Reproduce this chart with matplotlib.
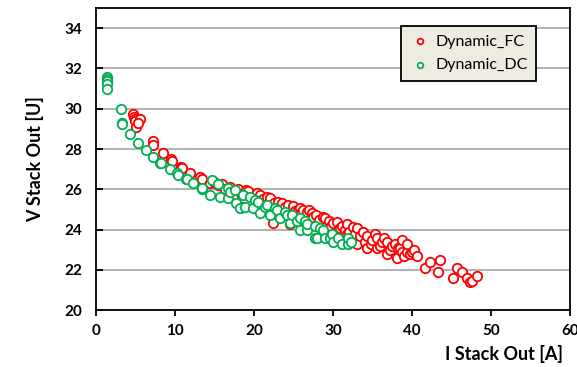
import matplotlib.pyplot as plt

# Dynamic_FC (red)
fc_i = [4.7, 4.8, 4.9, 5.0, 5.6, 5.1, 5.3, 7.2, 7.3, 8.5, 9.5, 9.6, 10.8, 10.9,
        11.9, 13.2, 13.4, 14.4, 15.0, 15.5, 16.0, 16.4, 17.0, 17.3, 18.0, 18.5,
        19.0, 19.2, 20.4, 20.8, 21.2, 21.6, 22.0, 22.4, 22.5, 23.0, 23.5, 24.0,
        24.3, 24.6, 25.0, 25.2, 25.6, 25.8, 26.0, 26.2, 26.7, 27.0, 27.3, 27.5,
        27.8, 28.2, 28.7, 29.0, 29.5, 29.8, 30.0, 30.5, 30.9, 31.2, 31.5, 31.8,
        31.8, 32.0, 32.5, 32.8, 33.0, 33.0, 33.4, 33.8, 34.0, 34.3, 34.3, 34.8,
        35.0, 35.3, 35.6, 35.6, 36.0, 36.2, 36.5, 36.8, 36.8, 37.2, 37.5, 37.8,
        38.1, 38.2, 38.5, 38.7, 38.8, 39.0, 39.4, 39.4, 39.7, 40.0, 40.3, 40.6,
        41.6, 42.3, 43.3, 43.5, 45.2, 45.7, 46.3, 47.0, 47.3, 47.6, 48.2]
fc_v = [29.75, 29.6, 29.5, 29.4, 29.5, 29.1, 29.3, 28.4, 28.2, 27.8, 27.5, 27.4,
        27.1, 27.05, 26.8, 26.6, 26.5, 26.3, 26.35, 26.2, 26.25, 26.0, 26.1, 25.55,
        26.0, 25.1, 25.95, 25.9, 25.8, 25.7, 25.5, 25.6, 25.55, 24.35, 25.3, 25.35,
        25.3, 25.1, 25.2, 24.3, 25.15, 24.9, 24.95, 25.05, 24.8, 24.95, 24.85,
        24.95, 24.8, 24.6, 24.7, 24.5, 24.6, 24.55, 24.45, 24.2, 24.35, 24.4, 24.1,
        24.2, 24.0, 24.3, 23.8, 23.9, 24.15, 23.8, 24.06, 23.3, 23.7, 23.9, 23.4,
        23.7, 23.1, 23.3, 23.5, 23.8, 23.6, 23.07, 23.2, 23.4, 23.6, 23.37, 22.8,
        23.0, 23.2, 23.3, 22.6, 23.1, 23.07, 23.5, 22.9, 22.7, 22.87, 23.3, 22.8,
        22.87, 23.0, 22.7, 22.1, 22.4, 21.9, 22.5, 21.6, 22.1, 21.9, 21.6, 21.4,
        21.45, 21.7]

# Dynamic_DC (green)
dc_i = [1.4, 1.4, 1.4, 1.4, 1.4, 3.2, 3.3, 3.3, 4.3, 5.3, 6.3, 7.3, 8.1, 8.3, 9.4,
        10.3, 10.4, 11.4, 11.5, 12.3, 13.4, 13.5, 14.4, 14.7, 15.4, 15.7, 16.7,
        16.7, 17.0, 17.6, 17.8, 18.2, 18.6, 18.9, 19.5, 19.9, 20.1, 20.5, 20.8,
        21.4, 21.6, 22.0, 22.7, 22.9, 23.3, 23.9, 24.2, 24.6, 24.8, 25.4, 25.8,
        25.8, 26.5, 26.7, 26.7, 27.7, 27.7, 28.0, 28.4, 28.7, 29.0, 29.6, 29.9,
        30.0, 30.6, 31.1, 31.9, 31.9, 32.3]
dc_v = [31.6, 31.5, 31.4, 31.25, 31.0, 30.0, 29.3, 29.25, 28.75, 28.3, 27.95,
        27.6, 27.3, 27.3, 27.0, 26.8, 26.7, 26.5, 26.5, 26.3, 26.0, 26.05, 25.7,
        26.45, 26.25, 25.6, 26.05, 25.55, 25.85, 25.95, 25.3, 25.05, 25.7, 25.1,
        25.6, 25.05, 25.45, 25.35, 24.8, 25.1, 25.2, 24.7, 25.05, 24.95, 24.55,
        24.85, 24.7, 24.35, 24.7, 24.45, 24.55, 23.96, 24.45, 23.96, 24.3, 24.2,
        23.6, 23.6, 24.06, 23.96, 23.56, 23.56, 23.8, 23.37, 23.56, 23.3, 23.3,
        23.56, 23.4]

plt.rcParams['font.family'] = ['Lato', 'DejaVu Sans']

fig = plt.figure(figsize=(5.77, 3.67), dpi=100)
ax = fig.add_axes([0.166, 0.155, 0.822, 0.823])

ax.scatter(fc_i, fc_v, s=46, facecolors='white', edgecolors='#ff0000',
           linewidths=1.3, label='Dynamic_FC', zorder=3)
ax.scatter(dc_i, dc_v, s=46, facecolors='white', edgecolors='#00b050',
           linewidths=1.3, label='Dynamic_DC', zorder=3)

ax.set_xlim(0, 60)
ax.set_ylim(20, 35)
ax.set_xticks(range(0, 61, 10))
ax.set_yticks(range(20, 35, 2))
ax.grid(axis='y', color='#a6a6a6', linewidth=1.2, zorder=0)
ax.set_axisbelow(True)

for sp in ax.spines.values():
    sp.set_linewidth(1.3)
ax.tick_params(axis='y', direction='in', length=5, width=1.3, labelsize=11, pad=10)
ax.tick_params(axis='x', direction='out', length=4, width=1.3, labelsize=11, pad=6)
for lbl in ax.get_xticklabels() + ax.get_yticklabels():
    lbl.set_fontweight('bold')

ax.set_xlabel('I Stack Out [A]', fontsize=13, fontweight='bold', ha='right')
ax.xaxis.set_label_coords(0.985, -0.115)
ax.set_ylabel('V Stack Out [U]', fontsize=13, fontweight='bold', labelpad=14)

leg = ax.legend(loc='upper left', bbox_to_anchor=(0.643, 0.942),
                fontsize=11.5, markerscale=0.6, handletextpad=0.3,
                labelspacing=0.6, borderpad=0.55, fancybox=False, framealpha=1,
                edgecolor='black', facecolor='#eeece1', handlelength=1.3,
                borderaxespad=0)
leg.get_frame().set_linewidth(1.3)

fig.savefig('out.png', dpi=100)
